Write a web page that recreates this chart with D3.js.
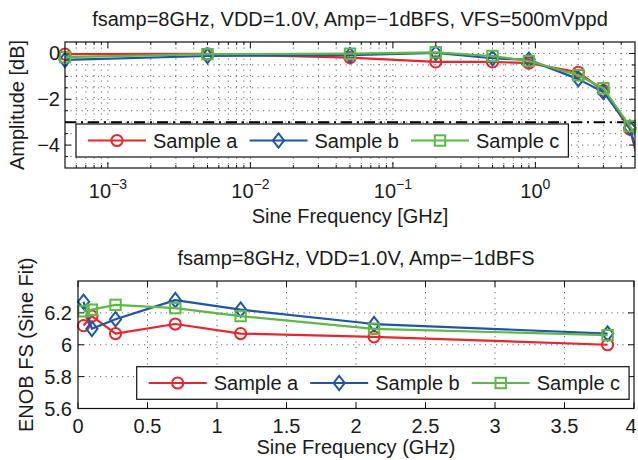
<!DOCTYPE html>
<html><head><meta charset="utf-8">
<script src="https://cdn.jsdelivr.net/npm/d3@7"></script>
<style>
body{margin:0;background:#fff}
text{font-family:"Liberation Sans",Arial,Helvetica,sans-serif;fill:#1a1a1a}
</style>
</head><body>
<svg id="c" width="638" height="460"></svg>
<script>
// ---------- data ----------
const seriesNames = ["Sample a", "Sample b", "Sample c"];
const seriesColors = ["#e8262c", "#1f55a6", "#5eb845"];
const seriesMarkers = ["circle", "diamond", "square"];

// Top chart: amplitude vs sine frequency (GHz, log)
const ampFreq = [0.0005, 0.005, 0.05, 0.2, 0.5, 0.9, 2, 3, 4.6, 6];
const ampA = [-0.03, -0.02, -0.18, -0.37, -0.37, -0.42, -0.82, -1.62, -3.3, -6.0];
const ampB = [-0.28, -0.11, -0.07, 0.02, -0.21, -0.28, -1.12, -1.68, -3.24, -5.8];
const ampC = [-0.16, -0.03, -0.01, 0.05, -0.11, -0.33, -0.95, -1.52, -3.17, -4.3];
const ampYTicks = [-4, -2, 0];
const ampXTickExps = [-3, -2, -1, 0];
const ampRefLevel = -3;
const ampTitle = "fsamp=8GHz, VDD=1.0V, Amp=\u22121dBFS, VFS=500mVppd";
const ampXLabel = "Sine Frequency [GHz]";
const ampYLabel = "Amplitude [dB]";

// Bottom chart: ENOB vs sine frequency (GHz, linear)
const enobFreq = [0.04, 0.1, 0.27, 0.7, 1.17, 2.13, 3.81];
const enobA = [6.12, 6.18, 6.07, 6.13, 6.07, 6.05, 6.00];
const enobB = [6.27, 6.10, 6.16, 6.28, 6.22, 6.13, 6.07];
const enobC = [6.21, 6.22, 6.25, 6.23, 6.18, 6.10, 6.06];
const enobYTicks = [5.6, 5.8, 6, 6.2];
const enobXTicks = [0, 0.5, 1, 1.5, 2, 2.5, 3, 3.5, 4];
const enobTitle = "fsamp=8GHz, VDD=1.0V, Amp=\u22121dBFS";
const enobXLabel = "Sine Frequency (GHz)";
const enobYLabel = "ENOB FS (Sine Fit)";

// ---------- helpers ----------
const svg = d3.select("#c");
const FS = 20;
const fmtMinus = s => String(s).replace("-", "\u2212");

function marker(g, type, cx, cy, color) {
  if (type === "circle") {
    g.append("circle").attr("cx", cx).attr("cy", cy).attr("r", 5.6)
      .attr("fill", "none").attr("stroke", color).attr("stroke-width", 2);
  } else if (type === "diamond") {
    const w = 5.6, h = 7.2;
    g.append("path").attr("d", `M${cx},${cy - h}L${cx + w},${cy}L${cx},${cy + h}L${cx - w},${cy}Z`)
      .attr("fill", "none").attr("stroke", color).attr("stroke-width", 2);
  } else {
    const s = 5.2;
    g.append("rect").attr("x", cx - s).attr("y", cy - s).attr("width", 2 * s).attr("height", 2 * s)
      .attr("fill", "none").attr("stroke", color).attr("stroke-width", 2);
  }
}

function gridStyle(sel) {
  return sel.attr("stroke", "#333").attr("stroke-width", 1)
    .attr("stroke-dasharray", "1.2,4.3").attr("opacity", 0.75);
}

function drawSeries(g, x, y, xs, ysList, clipId, inDomain) {
  ysList.forEach((ys, i) => {
    const pts = xs.map((v, k) => [v, ys[k]]);
    const line = d3.line().x(d => x(d[0])).y(d => y(d[1]));
    g.append("path").attr("d", line(pts)).attr("fill", "none")
      .attr("stroke", seriesColors[i]).attr("stroke-width", 2.2)
      .attr("stroke-linejoin", "round")
      .attr("clip-path", `url(#${clipId})`);
    pts.filter(d => inDomain(d[0])).forEach(d => marker(g, seriesMarkers[i], x(d[0]), y(d[1]), seriesColors[i]));
  });
}

function legend(g, bx, by, bh) {
  const lg = g.append("g");
  const box = lg.append("rect").attr("x", bx).attr("y", by).attr("height", bh)
    .attr("fill", "#fff").attr("stroke", "#111").attr("stroke-width", 1.2);
  let xx = bx + 12;
  const cy = by + bh / 2;
  seriesNames.forEach((n, i) => {
    lg.append("line").attr("x1", xx).attr("x2", xx + 58).attr("y1", cy).attr("y2", cy)
      .attr("stroke", seriesColors[i]).attr("stroke-width", 2.2);
    marker(lg, seriesMarkers[i], xx + 29, cy, seriesColors[i]);
    const t = lg.append("text").attr("x", xx + 65).attr("y", cy + 7).attr("font-size", FS).text(n);
    xx = xx + 65 + t.node().getComputedTextLength() + 12;
  });
  box.attr("width", xx - 3 - bx);
}

// ---------- top chart ----------
{
  const L = 65, R = 635, T = 42, B = 168;
  const x = d3.scaleLog().domain([0.0005, 5]).range([L, R]);
  const y = d3.scaleLinear().domain([-5, 0.5]).range([B, T]);
  const g = svg.append("g");
  svg.append("clipPath").attr("id", "clipTop").append("rect")
    .attr("x", L).attr("y", T).attr("width", R - L).attr("height", B - T);

  const xGrid = [];
  for (let e = -4; e <= 0; e++) for (let m = 1; m <= 9; m++) {
    const v = m * Math.pow(10, e);
    if (v > 0.0005 * 1.0001 && v < 5 * 0.9999) xGrid.push(v);
  }
  const yGrid = d3.range(-4.5, 0.5, 0.5);
  xGrid.forEach(v => gridStyle(g.append("line").attr("x1", x(v)).attr("x2", x(v)).attr("y1", T).attr("y2", B)));
  yGrid.forEach(v => gridStyle(g.append("line").attr("x1", L).attr("x2", R).attr("y1", y(v)).attr("y2", y(v))));

  g.append("line").attr("x1", L).attr("x2", R).attr("y1", y(ampRefLevel)).attr("y2", y(ampRefLevel))
    .attr("stroke", "#000").attr("stroke-width", 2).attr("stroke-dasharray", "11,5,2,5");

  xGrid.forEach(v => {
    const major = ampXTickExps.some(e => Math.abs(Math.log10(v) - e) < 1e-6);
    const len = major ? 6 : 3;
    g.append("line").attr("x1", x(v)).attr("x2", x(v)).attr("y1", B).attr("y2", B - len).attr("stroke", "#111");
    g.append("line").attr("x1", x(v)).attr("x2", x(v)).attr("y1", T).attr("y2", T + len).attr("stroke", "#111");
  });
  yGrid.forEach(v => {
    const major = ampYTicks.includes(v);
    const len = major ? 6 : 3;
    g.append("line").attr("x1", L).attr("x2", L + len).attr("y1", y(v)).attr("y2", y(v)).attr("stroke", "#111");
    g.append("line").attr("x1", R).attr("x2", R - len).attr("y1", y(v)).attr("y2", y(v)).attr("stroke", "#111");
  });

  drawSeries(g, x, y, ampFreq, [ampA, ampB, ampC], "clipTop", v => v >= 0.0005 && v <= 5);

  legend(g, 76, 124, 33);

  g.append("rect").attr("x", L).attr("y", T).attr("width", R - L).attr("height", B - T)
    .attr("fill", "none").attr("stroke", "#111").attr("stroke-width", 1.2);

  ampYTicks.forEach(v => g.append("text").attr("x", L - 5).attr("y", y(v) + 7)
    .attr("text-anchor", "end").attr("font-size", FS).text(fmtMinus(v)));
  ampXTickExps.forEach(e => {
    const t = g.append("text").attr("x", x(Math.pow(10, e))).attr("y", 198)
      .attr("text-anchor", "middle").attr("font-size", FS);
    t.append("tspan").text("10");
    t.append("tspan").attr("dy", -9).attr("font-size", 14).text(fmtMinus(e));
  });
  g.append("text").attr("x", (L + R) / 2).attr("y", 26).attr("text-anchor", "middle")
    .attr("font-size", FS).text(ampTitle);
  g.append("text").attr("x", (L + R) / 2).attr("y", 223).attr("text-anchor", "middle")
    .attr("font-size", FS).text(ampXLabel);
  g.append("text").attr("transform", `translate(24,${(T + B) / 2}) rotate(-90)`)
    .attr("text-anchor", "middle").attr("font-size", FS).text(ampYLabel);
}

// ---------- bottom chart ----------
{
  const L = 78, R = 634, T = 281, B = 408.5;
  const x = d3.scaleLinear().domain([0, 4]).range([L, R]);
  const y = d3.scaleLinear().domain([5.6, 6.4]).range([B, T]);
  const g = svg.append("g");
  svg.append("clipPath").attr("id", "clipBot").append("rect")
    .attr("x", L).attr("y", T).attr("width", R - L).attr("height", B - T);

  enobXTicks.slice(1, -1).forEach(v => gridStyle(g.append("line").attr("x1", x(v)).attr("x2", x(v)).attr("y1", T).attr("y2", B)));
  enobYTicks.slice(1).forEach(v => gridStyle(g.append("line").attr("x1", L).attr("x2", R).attr("y1", y(v)).attr("y2", y(v))));

  enobXTicks.forEach(v => {
    g.append("line").attr("x1", x(v)).attr("x2", x(v)).attr("y1", B).attr("y2", B - 6).attr("stroke", "#111");
    g.append("line").attr("x1", x(v)).attr("x2", x(v)).attr("y1", T).attr("y2", T + 6).attr("stroke", "#111");
  });
  enobYTicks.forEach(v => {
    g.append("line").attr("x1", L).attr("x2", L + 6).attr("y1", y(v)).attr("y2", y(v)).attr("stroke", "#111");
    g.append("line").attr("x1", R).attr("x2", R - 6).attr("y1", y(v)).attr("y2", y(v)).attr("stroke", "#111");
  });

  drawSeries(g, x, y, enobFreq, [enobA, enobB, enobC], "clipBot", v => v >= 0 && v <= 4);

  legend(g, 136.7, 366.7, 32.6);

  g.append("rect").attr("x", L).attr("y", T).attr("width", R - L).attr("height", B - T)
    .attr("fill", "none").attr("stroke", "#111").attr("stroke-width", 1.2);

  enobYTicks.forEach(v => g.append("text").attr("x", L - 6).attr("y", y(v) + 7)
    .attr("text-anchor", "end").attr("font-size", FS).text(d3.format("~g")(v)));
  enobXTicks.forEach(v => g.append("text").attr("x", Math.min(x(v), 631)).attr("y", 433)
    .attr("text-anchor", "middle").attr("font-size", FS).text(d3.format("~g")(v)));
  g.append("text").attr("x", (L + R) / 2).attr("y", 265).attr("text-anchor", "middle")
    .attr("font-size", FS).text(enobTitle);
  g.append("text").attr("x", (L + R) / 2).attr("y", 454).attr("text-anchor", "middle")
    .attr("font-size", FS).text(enobXLabel);
  g.append("text").attr("transform", `translate(32.5,${(T + B) / 2}) rotate(-90)`)
    .attr("text-anchor", "middle").attr("font-size", FS).text(enobYLabel);
}
</script>
</body></html>
